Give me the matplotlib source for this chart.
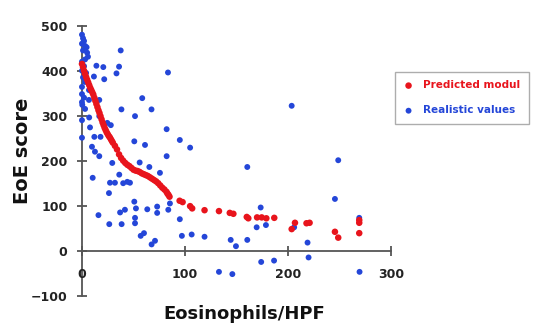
import matplotlib
matplotlib.use("Agg")
import matplotlib.pyplot as plt

# Predicted model (red)
pred_x = [0, 1, 2, 3, 4, 5, 6, 7, 8, 9, 10, 11, 12, 13, 14, 15, 16, 17, 18, 19,
          20, 21, 22, 23, 24, 25, 26, 27, 28, 29, 30, 32, 34, 36, 38, 40, 42, 44,
          46, 48, 50, 52, 54, 56, 58, 60, 62, 64, 66, 68, 70, 72, 74, 76, 78, 80,
          82, 83, 84, 85, 94.8, 97.7, 105, 107, 119, 133, 143.5, 147, 160, 161.5,
          170, 174.5, 179, 186.7, 203.6, 206.8, 218, 221, 245.6, 248.8, 269.2,
          269.2, 269.2]
pred_y = [415, 408, 400, 393, 386, 380, 374, 368, 362, 357, 352, 347, 340, 333,
          326, 319, 312, 306, 299, 292, 285, 279, 273, 268, 263, 259, 255, 252,
          248, 244, 240, 233, 225, 214, 206, 200, 195, 191, 188, 184, 180, 178,
          177, 175, 172, 170, 168, 166, 163, 160, 157, 154, 150, 145, 140, 136,
          131, 127, 124, 120, 111, 108, 99, 94, 90, 88, 84, 82, 75, 72, 74, 74,
          72, 73, 48, 62, 61, 62, 42, 29, 62, 39, 68]

# Realistic values (blue)
real_x = [0, 1, 2, 0, 3, 4.5, 1, 5, 5.8, 3, 0, 2, 0, 4, 1, 3, 0, 6.8, 0, 2, 6.8,
          0, 0.3, 3, 7, 0, 7.8, 0, 14, 20.7, 11.6, 21.6, 37.6, 36, 33.5, 83.5,
          16.8, 58.5, 38.3, 67.5, 51.5, 82.2, 95, 105, 82.2, 50.8, 61.2, 12, 18,
          24.6, 28, 9.7, 12.6, 16.8, 29.4, 56, 65.4, 75.7, 16.8, 10.4, 16, 26.5,
          26.2, 27.2, 32, 36.2, 40, 44, 46.6, 38.5, 37, 41.7, 50.8, 52.4, 51.5,
          51.5, 63.4, 73, 73, 57, 60.2, 67.6, 70.9, 83.8, 85.4, 95, 97, 106.5,
          119, 144.4, 149.5, 160.5, 160.5, 173.5, 169.6, 178.6, 174, 186.5, 133,
          146, 220, 269.5, 203.6, 248.8, 245.6, 269.2, 219, 206]
real_y = [480, 472, 466, 460, 455, 452, 445, 440, 431, 425, 420, 410, 400, 395,
          385, 375, 364, 357, 348, 340, 335, 330, 324, 315, 296, 290, 274, 251,
          411, 408, 387, 381, 445, 409, 394, 396, 335, 339, 314, 314, 299, 270,
          246, 229, 210, 243, 235, 253, 253, 284, 279, 231, 220, 210, 195, 196,
          186, 173, 299, 162, 79, 59, 128, 151, 151, 169, 150, 153, 151, 59, 85,
          91, 109, 94, 73, 61, 92, 98, 84, 33, 39, 14, 22, 91, 105, 70, 33, 36,
          31, 24, 10, 24, 186, 96, 52, 57, -25, -22, -47, -52, -15, -47, 322,
          201, 115, 73, 18, 52]

x_ticks = [0, 100, 200, 300]
y_ticks = [-100, 0, 100, 200, 300, 400, 500]

red = '#e8141c'
blue = '#2446d8'
axis_col = '#555555'

fig = plt.figure(figsize=(5.41, 3.30), dpi=100)
ax = fig.add_axes([0.1363, 0.0903, 0.6054, 0.8455])

ax.scatter(real_x, real_y, s=18, color=blue, edgecolors='none',
           label='Realistic values', zorder=3)
ax.scatter(pred_x, pred_y, s=22, color=red, edgecolors='none',
           label='Predicted modul', zorder=4)

ax.set_xlim(-8, 310)
ax.set_ylim(-110, 510)

for side in ['top', 'right']:
    ax.spines[side].set_visible(False)
ax.spines['left'].set_position(('data', 0))
ax.spines['bottom'].set_position(('data', 0))
ax.spines['left'].set_bounds(-100, 500)
ax.spines['bottom'].set_bounds(0, 300)
for side in ['left', 'bottom']:
    ax.spines[side].set_color(axis_col)
    ax.spines[side].set_linewidth(1.3)
    ax.spines[side].set_zorder(1)

ax.set_xticks(x_ticks)
ax.set_yticks(y_ticks)
ax.tick_params(axis='both', direction='inout', length=7, width=1.3,
               color=axis_col, labelsize=9)
ax.tick_params(axis='y', pad=7)
ax.tick_params(axis='x', pad=9)
for lab in ax.get_xticklabels() + ax.get_yticklabels():
    lab.set_fontweight('bold')
    lab.set_color('#222222')

fig.text(23 / 541, 1 - 151 / 330, 'EoE score', rotation=90, ha='center',
         va='center', fontsize=14, fontweight='bold', color='#111111')
fig.text(244.5 / 541, 1 - 314 / 330, 'Eosinophils/HPF', ha='center',
         va='center', fontsize=13, fontweight='bold', color='#111111')

handles, labels = ax.get_legend_handles_labels()
leg = ax.legend(handles[::-1], labels[::-1], loc='upper left',
                bbox_to_anchor=(395 / 541, 1 - 72 / 330),
                bbox_transform=fig.transFigure, borderaxespad=0,
                fancybox=False, edgecolor='#999999',
                prop={'weight': 'bold', 'size': 7.5}, labelspacing=1.45,
                handletextpad=0.9, handlelength=1.0, borderpad=0.8)
leg.get_frame().set_linewidth(1.0)
for txt, col in zip(leg.get_texts(), [red, blue]):
    txt.set_color(col)

fig.savefig('out.png', dpi=100)
